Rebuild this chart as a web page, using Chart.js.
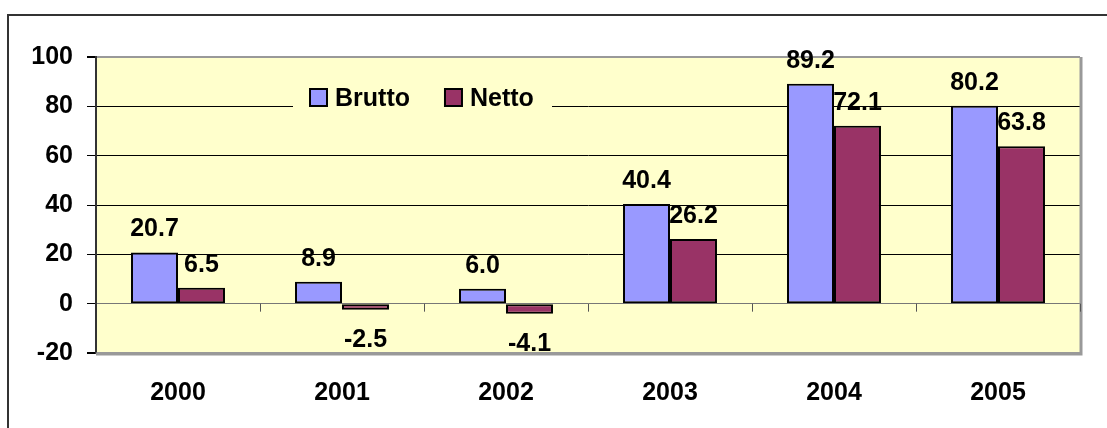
<!DOCTYPE html>
<html>
<head>
<meta charset="utf-8">
<script src="https://cdn.jsdelivr.net/npm/chart.js@4"></script>
<style>
  body { margin: 0; background: #fff; overflow: hidden; }
  canvas { display: block; }
</style>
</head>
<body>
<canvas id="chart" width="1107" height="428"></canvas>
<script>
// data
const Years = ['2000', '2001', '2002', '2003', '2004', '2005'];
const Brutto = [20.7, 8.9, 6.0, 40.4, 89.2, 80.2];
const Netto = [6.5, -2.5, -4.1, 26.2, 72.1, 63.8];
const SeriesNames = ['Brutto', 'Netto'];
const SeriesColors = ['#9999FF', '#993366'];

const FONT = 'Liberation Sans, Arial, sans-serif';
const PLOT_BG = '#FFFFCC';

//Outer frame + yellow plot area
const backgroundPlugin = {
    id: 'background',
    beforeDraw(chart) {
        const c = chart.ctx;
        const a = chart.chartArea;
        c.save();
        c.fillStyle = PLOT_BG;
        c.fillRect(a.left, a.top, a.right - a.left, a.bottom - a.top);
        // frame around whole chart
        c.strokeStyle = '#333';
        c.lineWidth = 2;
        c.beginPath();
        c.moveTo(8, 440);
        c.lineTo(8, 15);
        c.lineTo(1120, 15);
        c.stroke();
        c.restore();
    },
    afterDatasetsDraw(chart) {
        const c = chart.ctx;
        const a = chart.chartArea;
        const x = chart.scales.x;
        const y0 = chart.scales.y.getPixelForValue(0);
        c.save();
        // right and bottom shadow of plot area
        c.strokeStyle = '#999';
        c.lineWidth = 3;
        c.beginPath();
        c.moveTo(a.left, a.bottom + 1);
        c.lineTo(a.right + 1, a.bottom + 1);
        c.lineTo(a.right + 1, a.top);
        c.stroke();
        // category tick marks on the zero line
        c.strokeStyle = '#555';
        c.lineWidth = 1;
        const step = (a.right - a.left) / Years.length;
        for (let i = 1; i <= Years.length; i++) {
            const px = Math.round(x.getPixelForValue(i - 1) + step / 2) + 0.5;
            c.beginPath();
            c.moveTo(px, y0);
            c.lineTo(px, y0 + 8);
            c.stroke();
        }
        c.restore();
    }
};

//value labels over / under the bars
const valueLabels = {
    id: 'valueLabels',
    afterDatasetsDraw(chart) {
        const c = chart.ctx;
        c.save();
        c.font = 'bold 25px ' + FONT;
        c.fillStyle = '#000';
        c.textAlign = 'center';
        c.textBaseline = 'middle';
        chart.data.datasets.forEach((ds, di) => {
            const meta = chart.getDatasetMeta(di);
            meta.data.forEach((el, i) => {
                const v = ds.data[i];
                const ty = v >= 0 ? el.y - 23 : el.y + 30;
                c.fillText(v.toFixed(1), el.x, ty);
            });
        });
        c.restore();
    }
};

//legend sitting inside the plot area
const innerLegend = {
    id: 'innerLegend',
    afterDraw(chart) {
        const c = chart.ctx;
        c.save();
        c.fillStyle = PLOT_BG;
        c.fillRect(293, 84, 259, 28);
        c.font = 'bold 25px ' + FONT;
        c.textBaseline = 'middle';
        c.textAlign = 'left';
        let lx = 310;
        chart.data.datasets.forEach((ds) => {
            c.fillStyle = ds.backgroundColor;
            c.fillRect(lx, 89, 17, 17);
            c.strokeStyle = '#000';
            c.lineWidth = 2;
            c.strokeRect(lx, 89, 17, 17);
            c.fillStyle = '#000';
            c.fillText(ds.label, lx + 25, 99);
            lx += 25 + c.measureText(ds.label).width + 35;
        });
        c.restore();
    }
};

const gridColor = (ctx) => {
    const v = ctx.tick ? ctx.tick.value : null;
    if (v === 0) return '#777';
    if (v === 100 || v === -20) return '#999';
    return '#000';
};

const config = {
    type: 'bar',
    data: {
        labels: Years,
        datasets: [{
            label: SeriesNames[0],
            data: Brutto,
            backgroundColor: SeriesColors[0],
            borderColor: '#000',
            borderWidth: 2,
            borderSkipped: false,
        }, {
            label: SeriesNames[1],
            data: Netto,
            backgroundColor: SeriesColors[1],
            borderColor: '#000',
            borderWidth: 2,
            borderSkipped: false,
        }]
    },
    options: {
        responsive: false,
        animation: false,
        devicePixelRatio: 1,
        categoryPercentage: 0.573,
        barPercentage: 1,
        layout: { padding: { top: 57, right: 27, left: 0, bottom: 0 } },
        plugins: {
            legend: { display: false },
            tooltip: { enabled: false },
        },
        scales: {
            x: {
                grid: { display: false, drawTicks: false },
                border: { display: false },
                ticks: {
                    color: '#000',
                    padding: 25,
                    font: { family: FONT, size: 25, weight: 'bold' },
                },
                afterFit: (s) => { s.height = 75; },
            },
            y: {
                min: -20,
                max: 100,
                ticks: {
                    stepSize: 20,
                    color: '#000',
                    padding: 14,
                    font: { family: FONT, size: 25, weight: 'bold' },
                },
                grid: {
                    color: gridColor,
                    lineWidth: (ctx) => (ctx.tick && (ctx.tick.value === 100 || ctx.tick.value === -20)) ? 2 : 1,
                    tickColor: '#000',
                    tickLength: 9,
                },
                border: { color: '#333', width: 2 },
                afterFit: (s) => { s.width = 96; },
            }
        }
    },
    plugins: [backgroundPlugin, valueLabels, innerLegend]
};

let BarChart = new Chart(document.getElementById('chart'), config);
</script>
</body>
</html>
